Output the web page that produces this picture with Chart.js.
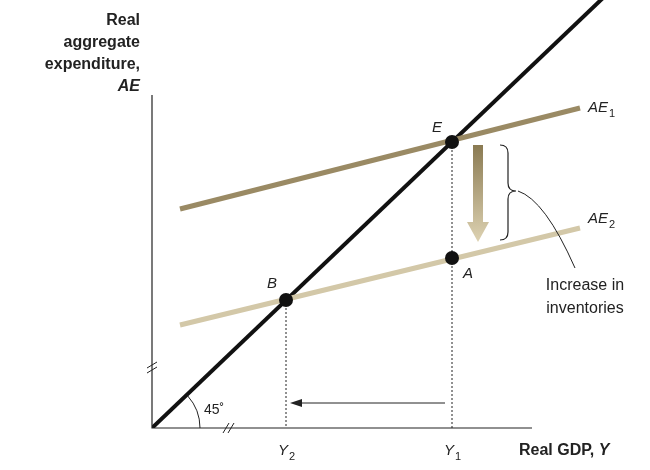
<!DOCTYPE html><html><head><script src="https://cdn.jsdelivr.net/npm/chart.js"></script>
<style>body{margin:0;background:#fff}</style></head><body>
<canvas id="c" width="650" height="470" style="width:650px;height:470px"></canvas>
<script>
const line45 = [{x:0,y:0},{x:452,y:431}];
const ae1 = [{x:28,y:219},{x:428,y:320}];
const ae2 = [{x:28,y:103},{x:428,y:200}];
const pointsEBA = [{x:300,y:286,l:'E'},{x:134,y:128,l:'B'},{x:300,y:170,l:'A'}];
const xTicks = [{x:134,l:'Y',s:'2'},{x:300,l:'Y',s:'1'}];
const F='"Liberation Sans", Arial, sans-serif';
const deco={id:'deco',afterDatasetsDraw(ch){
 const c=ch.ctx,X=v=>ch.scales.x.getPixelForValue(v),Y=v=>ch.scales.y.getPixelForValue(v);
 c.save();
 // axes
 c.strokeStyle='#222';c.lineWidth=1.2;c.beginPath();c.moveTo(X(0),Y(333));c.lineTo(X(0),Y(0));c.lineTo(X(380),Y(0));c.stroke();
 // breaks
 c.lineWidth=1;c.beginPath();
 [[X(0),Y(58)],[X(0),Y(63)]].forEach(([a,b])=>{c.moveTo(a-5,b+3);c.lineTo(a+5,b-3);});
 [[X(74),Y(0)],[X(79),Y(0)]].forEach(([a,b])=>{c.moveTo(a-3,b+5);c.lineTo(a+3,b-5);});
 c.stroke();
 // dotted
 c.setLineDash([2,2]);c.beginPath();
 c.moveTo(X(300),Y(286));c.lineTo(X(300),Y(0));c.moveTo(X(134),Y(128));c.lineTo(X(134),Y(0));c.stroke();c.setLineDash([]);
 // arrow left
 const ay=Y(25);c.beginPath();c.moveTo(X(293),ay);c.lineTo(X(142),ay);c.stroke();
 c.fillStyle='#222';c.beginPath();c.moveTo(X(138),ay);c.lineTo(X(150),ay-4);c.lineTo(X(150),ay+4);c.fill();
 // 45 arc
 c.beginPath();c.arc(X(0),Y(0),48,-Math.PI/4.3,0);c.stroke();
 // big arrow
 const g=c.createLinearGradient(0,145,0,245);g.addColorStop(0,'#8a7a52');g.addColorStop(1,'#e0d5b5');
 c.fillStyle=g;c.beginPath();c.moveTo(473,145);c.lineTo(483,145);c.lineTo(483,222);c.lineTo(489,222);c.lineTo(478,242);c.lineTo(467,222);c.lineTo(473,222);c.closePath();c.fill();
 // brace
 c.strokeStyle='#222';c.lineWidth=1.2;c.beginPath();
 c.moveTo(500,145);c.quadraticCurveTo(508,145,508,153);c.lineTo(508,183);c.quadraticCurveTo(508,191,516,191);
 c.quadraticCurveTo(508,191,508,199);c.lineTo(508,232);c.quadraticCurveTo(508,240,500,240);c.stroke();
 c.lineWidth=1;c.beginPath();c.moveTo(518,191);c.quadraticCurveTo(545,200,575,268);c.stroke();
 // points
 c.fillStyle='#111';pointsEBA.forEach(p=>{c.beginPath();c.arc(X(p.x),Y(p.y),7,0,7);c.fill();});
 // labels
 c.fillStyle='#222';c.font='italic 15px '+F;c.textAlign='center';
 c.fillText('E',437,132);c.fillText('B',272,288);c.fillText('A',468,278);
 const sub=(t,s,x,y)=>{c.font='italic 15px '+F;c.textAlign='left';c.fillText(t,x,y);const w=c.measureText(t).width;c.font='11px '+F;c.fillText(s,x+w+1,y+5);};
 sub('AE','1',588,112);sub('AE','2',588,223);
 xTicks.forEach(t=>sub(t.l,t.s,X(t.x)-8,Y(0)+27));
 c.font='14px '+F;c.textAlign='left';c.fillText('45˚',204,414);
 c.font='16px '+F;c.textAlign='center';c.fillText('Increase in',585,290);c.fillText('inventories',585,313);
 c.font='bold 16px '+F;c.textAlign='right';
 c.fillText('Real',140,25);c.fillText('aggregate',140,47);c.fillText('expenditure,',140,69);
 c.font='bold italic 16px '+F;c.fillText('AE',140,91);
 c.font='bold 16px '+F;c.textAlign='left';c.fillText('Real GDP, ',519,455);const w=c.measureText('Real GDP, ').width;
 c.font='bold italic 16px '+F;c.fillText('Y',519+w,455);
 c.restore();}};
new Chart(document.getElementById('c'),{type:'scatter',
 data:{datasets:[
  {data:ae1,showLine:true,borderColor:'#9a8a64',borderWidth:5,pointRadius:0},
  {data:ae2,showLine:true,borderColor:'#d3c8a8',borderWidth:5,pointRadius:0},
  {data:line45,showLine:true,borderColor:'#111',borderWidth:4,pointRadius:0}]},
 options:{responsive:false,animation:false,layout:{padding:{left:152,right:10,top:0,bottom:42}},
  plugins:{legend:{display:false},tooltip:{enabled:false}},
  scales:{x:{type:'linear',display:false,min:0,max:488},y:{type:'linear',display:false,min:0,max:428}}},
 plugins:[deco]});
</script></body></html>
